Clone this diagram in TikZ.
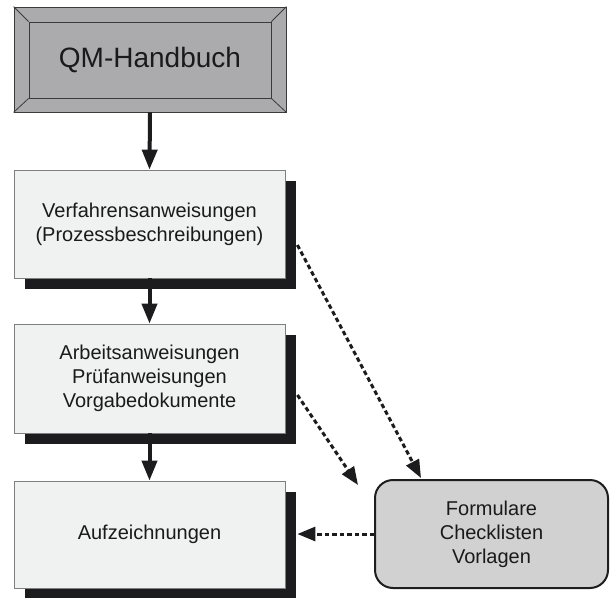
\documentclass[tikz,border=0pt]{standalone}
\usepackage{fontspec}
\setmainfont{Liberation Sans}
\usetikzlibrary{arrows.meta,shadows,calc}
\definecolor{boxfill}{HTML}{F0F2F1}
\definecolor{boxline}{HTML}{7F7F7F}
\definecolor{shad}{HTML}{1C1B1D}
\definecolor{qmfill}{HTML}{ABABAD}
\definecolor{qmline}{HTML}{3A3A3A}
\definecolor{formfill}{HTML}{D1D1D1}
\definecolor{formline}{HTML}{1E1E1E}
\definecolor{txt}{HTML}{1A1A1A}
\begin{document}
\begin{tikzpicture}[x=1pt,y=-1pt,
  docbox/.style={draw=boxline, line width=0.8pt, fill=boxfill, text=txt,
    minimum width=271pt, minimum height=108pt, inner sep=0pt, align=center,
    font=\fontsize{20}{24}\selectfont,
    general shadow={fill=shad, shadow xshift=11pt, shadow yshift=-11pt}},
  qmbox/.style={draw=qmline, line width=0.8pt, fill=qmfill,
    minimum width=272pt, minimum height=105pt, inner sep=0pt},
  qminner/.style={draw=qmline, line width=0.8pt, fill=qmfill,
    minimum width=242pt, minimum height=76pt, inner sep=0pt},
  formbox/.style={draw=formline, line width=2pt, fill=formfill, rounded corners=18pt,
    minimum width=233pt, minimum height=108pt, inner sep=0pt, align=center, text=txt,
    font=\fontsize{20}{24}\selectfont},
  flow/.style={draw=shad, line width=4pt, -{Triangle[length=20pt,width=15pt]}},
  ref/.style={draw=shad, line width=3pt, dash pattern=on 4.5pt off 3pt,
    -{Triangle[length=18pt,width=14pt]}}
]
\useasboundingbox (0,0) rectangle (613,597);

% QM-Handbuch bevelled box
\node[qmbox] (qm) at (150,59.5) {};
\node[qminner] (qmi) at (150,60) {};
\draw[qmline, line width=0.8pt] (qm.north west) -- (qmi.north west)
  (qm.north east) -- (qmi.north east)
  (qm.south west) -- (qmi.south west)
  (qm.south east) -- (qmi.south east);
\node[text=txt, font=\fontsize{28}{32}\selectfont] (qmt) at (150,60) {QM-Handbuch};

\node[docbox] (b2) at (149.5,224) {Verfahrensanweisungen\\(Prozessbeschreibungen)};
\node[docbox, minimum height=109pt] (b3) at (149.5,378.5) {Arbeitsanweisungen\\Prüfanweisungen\\Vorgabedokumente};
\node[docbox, minimum height=107pt] (b4) at (149.5,534.5) {Aufzeichnungen};
\node[formbox] (f) at (491.5,534) {Formulare\\Checklisten\\Vorlagen};

% solid flow arrows
\draw[flow] (qm.south) -- (b2.north);
\draw[flow] (b2.south) -- (b3.north);
\draw[flow] (b3.south) -- (b4.north);

% dashed references
\coordinate (s1) at ($(b2.east)+(12,21)$);
\coordinate (e1) at ($(f.north west)+(47,-1)$);
\coordinate (s2) at ($(b3.east)+(12,16.5)$);
\coordinate (e2) at (358,485);
\coordinate (e3) at ($(b4.east)+(12,-0.5)$);
\draw[ref] (s1) -- (e1);
\draw[ref] (s2) -- (e2);
\draw[ref] (f.west) -- (e3);
\end{tikzpicture}
\end{document}
